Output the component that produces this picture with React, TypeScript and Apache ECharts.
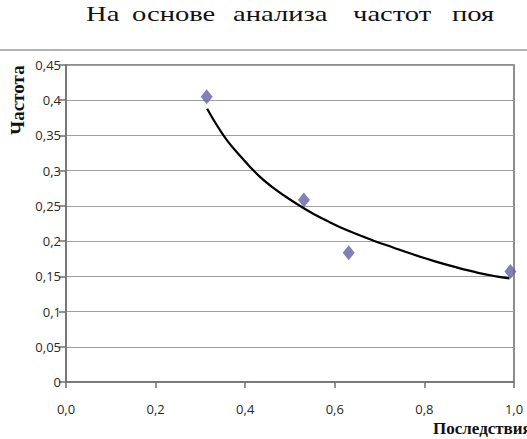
import React, { useEffect, useRef } from "react";
import * as echarts from "echarts";

// ---- data ----
const pointX = [0.314, 0.531, 0.631, 0.992];
const pointY = [0.405, 0.2585, 0.1835, 0.157];

const trendX = [0.315, 0.355, 0.393, 0.43, 0.468, 0.505, 0.546, 0.585, 0.625, 0.685, 0.73, 0.771, 0.82, 0.87, 0.92, 0.96, 0.99];
const trendY = [0.388, 0.347, 0.318, 0.293, 0.273, 0.257, 0.241, 0.228, 0.216, 0.201, 0.191, 0.182, 0.172, 0.163, 0.155, 0.15, 0.147];

const headerWords = ["На", "основе", "анализа", "частот", "поя"];
const yTitle = "Частота";
const xTitle = "Последствия";

const headerLeft = [86, 132, 233, 353, 452];

export default function App() {
  const ref = useRef<HTMLDivElement>(null);
  useEffect(() => {
    document.body.style.margin = "0";
    const chart = echarts.init(ref.current!, null, { renderer: "svg" });
    const fmtY = (v: number) => String(parseFloat(v.toFixed(2))).replace(".", ",");
    const fmtX = (v: number) => v.toFixed(1).replace(".", ",");
    chart.setOption({
      animation: false,
      backgroundColor: "#ffffff",
      grid: {
        left: 66,
        top: 65,
        right: 13,
        bottom: 57,
        show: true,
        borderColor: "#6a6a6a",
        borderWidth: 1.5,
        backgroundColor: "transparent",
      },
      xAxis: {
        type: "value",
        min: 0,
        max: 1,
        interval: 0.2,
        axisLine: { show: true, onZero: false, lineStyle: { color: "#707070", width: 1.5 } },
        axisTick: { show: true, inside: false, length: 6, lineStyle: { color: "#707070", width: 1.5 } },
        splitLine: { show: false },
        axisLabel: {
          formatter: fmtX,
          margin: 20,
          fontSize: 13,
          fontFamily: "Open Sans",
          color: "#2a2a2a",
        },
      },
      yAxis: {
        type: "value",
        min: 0,
        max: 0.45,
        interval: 0.05,
        axisLine: { show: true, onZero: false, lineStyle: { color: "#707070", width: 1.5 } },
        axisTick: { show: true, inside: false, length: 7, lineStyle: { color: "#707070", width: 1.5 } },
        splitLine: { show: true, lineStyle: { color: "#a0a0a0", width: 1 } },
        axisLabel: {
          formatter: fmtY,
          margin: 5,
          fontSize: 13,
          fontFamily: "Open Sans",
          color: "#2a2a2a",
        },
      },
      series: [
        {
          type: "line",
          data: trendX.map((x, i) => [x, trendY[i]]),
          smooth: 0.4,
          showSymbol: false,
          lineStyle: { color: "#000", width: 2.2 },
          z: 2,
        },
        {
          type: "scatter",
          data: pointX.map((x, i) => [x, pointY[i]]),
          symbol: "diamond",
          symbolSize: [12, 15],
          itemStyle: { color: "#6262a4" },
          z: 3,
        },
      ],
      graphic: [
        {
          type: "line",
          shape: { x1: 0, y1: 50, x2: 527, y2: 50 },
          style: { stroke: "#9a9a9a", lineWidth: 1.5 },
        },
        ...headerWords.map((w, i) => ({
          type: "text",
          x: headerLeft[i],
          y: 14,
          scaleX: 1.3,
          style: {
            text: w,
            font: '22px "Liberation Serif"',
            fill: "#111",
            verticalAlign: "middle",
          },
        })),
        {
          type: "text",
          x: 17,
          y: 100,
          rotation: Math.PI / 2,
          style: {
            text: yTitle,
            font: 'bold 19px "Liberation Serif"',
            fill: "#111",
            align: "center",
            verticalAlign: "middle",
          },
        },
        {
          type: "text",
          x: 433,
          y: 428,
          style: {
            text: xTitle,
            font: 'bold 17px "Liberation Serif"',
            fill: "#111",
            align: "left",
            verticalAlign: "middle",
          },
        },
      ],
    });
    return () => chart.dispose();
  }, []);
  return <div ref={ref} style={{ width: 527, height: 439 }} />;
}
